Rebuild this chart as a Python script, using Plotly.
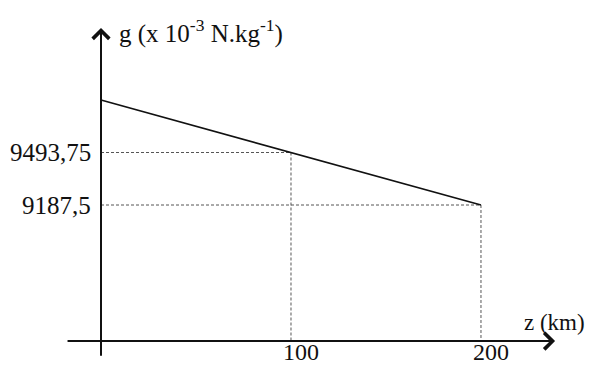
import plotly.graph_objects as go

# Data
z_km = [0, 100, 200]
g_vals = [9800, 9493.75, 9187.5]
tick_z = [100, 200]
tick_z_labels = ["100", "200"]
tick_g = [9493.75, 9187.5]
tick_g_labels = ["9493,75", "9187,5"]

# Schematic axis placement (data coords)
X_RANGE = [-48.95, 263.7]
Y_RANGE = [8195.9, 10336.6]
AXIS_G = 8394      # where the z axis is drawn
Y_AX_BOTTOM = 8300
Y_AX_TOP = 10220
X_AX_LEFT = -18.4
X_AX_RIGHT = 239

FONT = "Liberation Serif, Times New Roman, serif"
INK = "#111111"
DASH = "#555555"

fig = go.Figure()

# dashed guide lines
for z, g in zip(z_km[1:], g_vals[1:]):
    fig.add_trace(go.Scatter(x=[0, z], y=[g, g], mode="lines",
                             line=dict(color=DASH, width=1, dash="3px,2px"),
                             hoverinfo="skip", showlegend=False))
    fig.add_trace(go.Scatter(x=[z, z], y=[g, AXIS_G], mode="lines",
                             line=dict(color=DASH, width=1, dash="3px,2px"),
                             hoverinfo="skip", showlegend=False))

# main line
fig.add_trace(go.Scatter(x=z_km, y=g_vals, mode="lines",
                         line=dict(color=INK, width=1.7),
                         hoverinfo="skip", showlegend=False))

annotations = []
# axes as arrows
annotations.append(dict(x=X_AX_RIGHT, y=AXIS_G, ax=X_AX_LEFT, ay=AXIS_G,
                        xref="x", yref="y", axref="x", ayref="y",
                        showarrow=True, arrowhead=4, arrowsize=1.6,
                        arrowwidth=2, arrowcolor=INK, text=""))
annotations.append(dict(x=0, y=Y_AX_TOP, ax=0, ay=Y_AX_BOTTOM,
                        xref="x", yref="y", axref="x", ayref="y",
                        showarrow=True, arrowhead=4, arrowsize=1.6,
                        arrowwidth=2, arrowcolor=INK, text=""))

font = dict(family=FONT, size=25, color=INK)
for g, lab in zip(tick_g, tick_g_labels):
    annotations.append(dict(x=0, y=g, xref="x", yref="y", text=lab,
                            showarrow=False, xanchor="right", yanchor="middle",
                            xshift=-8, font=font))
for z, lab in zip(tick_z, tick_z_labels):
    annotations.append(dict(x=z, y=AXIS_G, xref="x", yref="y", text=lab,
                            showarrow=False, xanchor="center", yanchor="middle",
                            xshift=10, yshift=-11, font=dict(family=FONT, size=24, color=INK)))

annotations.append(dict(x=X_AX_RIGHT, y=AXIS_G, xref="x", yref="y",
                        text="z (km)", showarrow=False, xanchor="center",
                        yanchor="middle", xshift=-1, yshift=19,
                        font=dict(family=FONT, size=23, color=INK)))
annotations.append(dict(x=0, y=Y_AX_TOP, xref="x", yref="y",
                        text="g (x 10<sup>-3</sup> N.kg<sup>-1</sup>)",
                        showarrow=False, xanchor="left", yanchor="middle",
                        xshift=16, yshift=-4, font=font))

fig.update_layout(
    width=594, height=367,
    margin=dict(l=0, r=0, t=0, b=0),
    paper_bgcolor="white", plot_bgcolor="white",
    xaxis=dict(range=X_RANGE, visible=False, fixedrange=True),
    yaxis=dict(range=Y_RANGE, visible=False, fixedrange=True),
    annotations=annotations,
    showlegend=False,
)

fig.write_html("out.html")
